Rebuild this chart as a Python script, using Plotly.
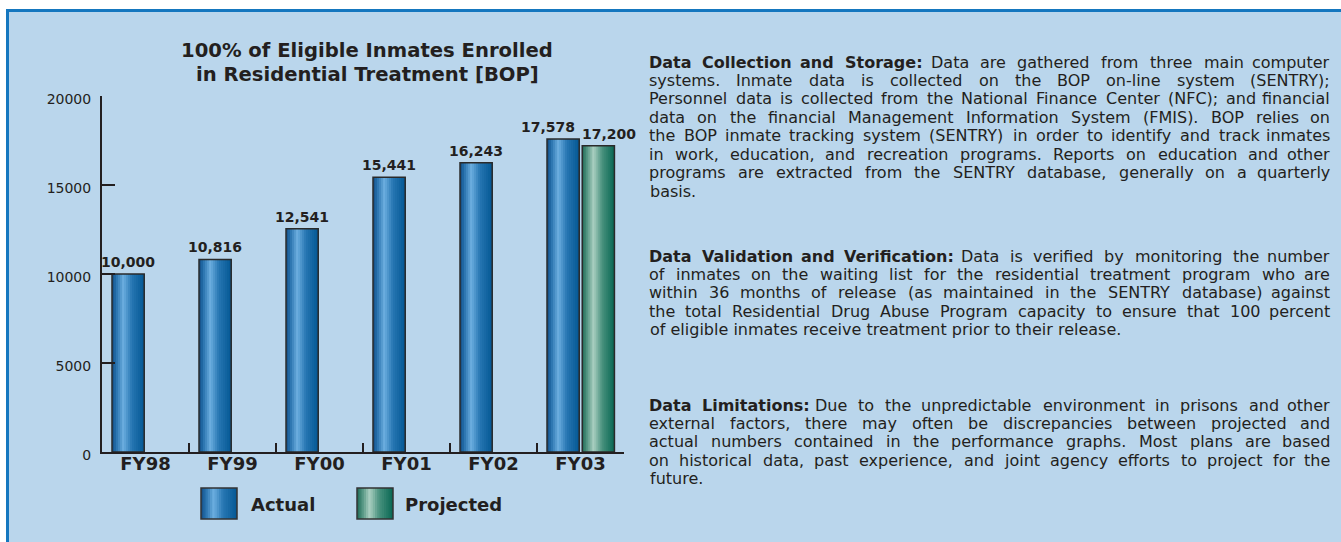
import plotly.graph_objects as go

W, H = 1341, 542

years = ["FY98", "FY99", "FY00", "FY01", "FY02", "FY03"]
actual = [10000, 10816, 12541, 15441, 16243, 17578]
projected = [None, None, None, None, None, 17200]
y_ticks = [0, 5000, 10000, 15000, 20000]

title_lines = ["100% of Eligible Inmates Enrolled", "in Residential Treatment [BOP]"]

# (bold heading, lines of the paragraph; the first line starts with the heading)
para_collection = ("Data Collection and Storage:", [
    "Data Collection and Storage: Data are gathered from three main computer",
    "systems. Inmate data is collected on the BOP on-line system (SENTRY);",
    "Personnel data is collected from the National Finance Center (NFC); and financial",
    "data on the financial Management Information System (FMIS). BOP relies on",
    "the BOP inmate tracking system (SENTRY) in order to identify and track inmates",
    "in work, education, and recreation programs.  Reports on education and other",
    "programs are extracted from the SENTRY database, generally on a quarterly",
    "basis.",
])
para_validation = ("Data Validation and Verification:", [
    "Data Validation and Verification: Data is verified by monitoring the number",
    "of inmates on the waiting list for the residential treatment program who are",
    "within 36 months of release (as maintained in the SENTRY database) against",
    "the total Residential Drug Abuse Program capacity to ensure that 100 percent",
    "of eligible inmates receive treatment prior to their release.",
])
para_limits = ("Data Limitations:", [
    "Data Limitations: Due to the unpredictable environment in prisons and other",
    "external factors, there may often be discrepancies between projected and",
    "actual numbers contained in the performance graphs.  Most plans are based",
    "on historical data, past experience, and joint agency efforts to project for the",
    "future.",
])

INK = "#231f20"
BG = "#bad6ec"
FONT = "DejaVu Sans"
TEXT_SIZE = 16

# shading profiles for the "cylinder" look
blue_stops = [(0, (22, 78, 132)), (0.12, (35, 110, 170)), (0.35, (108, 174, 223)),
              (0.62, (38, 118, 178)), (1, (4, 88, 148))]
green_stops = [(0, (32, 105, 85)), (0.12, (70, 140, 120)), (0.35, (170, 207, 193)),
               (0.62, (72, 145, 125)), (1, (8, 102, 82))]
N_STRIPS = 16

# rough DejaVu Sans advance widths (1/2048 em) used to justify the text column
_W = {" ": 651, ",": 651, ".": 651, ":": 690, ";": 690, "(": 799, ")": 799, "-": 739}
_W.update({d: 1303 for d in "0123456789"})
_W.update(dict(zip("ABCDEFGHIJKLMNOPQRSTUVWXYZ",
                   [1401, 1405, 1430, 1577, 1294, 1178, 1587, 1540, 604, 604, 1343, 1141, 1767,
                    1532, 1612, 1235, 1612, 1423, 1300, 1251, 1499, 1401, 2025, 1403, 1251, 1403])))
_W.update(dict(zip("abcdefghijklmnopqrstuvwxyz",
                   [1255, 1300, 1126, 1300, 1260, 721, 1300, 1298, 569, 569, 1186, 569, 1995,
                    1298, 1253, 1300, 1300, 842, 1067, 803, 1298, 1212, 1675, 1212, 1212, 1075])))


def text_width(s, size, bold=False):
    w = sum(_W.get(ch, 1250) for ch in s) / 2048 * size
    return w * (1.1 if bold else 1.0)


def shade(stops, t):
    for (t0, c0), (t1, c1) in zip(stops, stops[1:]):
        if t0 <= t <= t1:
            f = (t - t0) / (t1 - t0)
            return "rgb(%d,%d,%d)" % tuple(round(a + (b - a) * f) for a, b in zip(c0, c1))
    return "rgb(%d,%d,%d)" % stops[-1][1]


def px(x):
    return x / W


def py(y):
    return 1 - y / H


BAR_W = 0.37
OFF_ACT = -0.385
OFF_PROJ = 0.02

fig = go.Figure()


def add_shaded_bars(values, offset, stops, name):
    step = BAR_W / N_STRIPS
    for i in range(N_STRIPS):
        fig.add_trace(go.Bar(
            x=years, y=values, offset=offset + i * step, width=BAR_W - i * step,
            marker=dict(color=shade(stops, (i + 0.5) / N_STRIPS), line=dict(width=0)),
            showlegend=False, hoverinfo="skip",
        ))
    fig.add_trace(go.Bar(
        x=years, y=values, offset=offset, width=BAR_W, name=name,
        marker=dict(color="rgba(0,0,0,0)", line=dict(color="#2a2a2a", width=1.5)),
        showlegend=False,
    ))


add_shaded_bars(actual, OFF_ACT, blue_stops, "Actual")
add_shaded_bars(projected, OFF_PROJ, green_stops, "Projected")

annotations = []
# value labels
for i, v in enumerate(actual):
    shift = -15 if projected[i] is not None else 0
    annotations.append(dict(
        x=i + OFF_ACT + BAR_W / 2, y=v, xref="x", yref="y", text="<b>%s</b>" % f"{v:,}",
        showarrow=False, yanchor="bottom", xshift=shift, yshift=2,
        font=dict(family=FONT, size=14, color=INK),
    ))
for i, v in enumerate(projected):
    if v is None:
        continue
    annotations.append(dict(
        x=i + OFF_PROJ + BAR_W / 2, y=v, xref="x", yref="y", text="<b>%s</b>" % f"{v:,}",
        showarrow=False, yanchor="bottom", xshift=11, yshift=2,
        font=dict(family=FONT, size=14, color=INK),
    ))

# chart title
for k, line in enumerate(title_lines):
    annotations.append(dict(
        x=px(367), y=py(51 + k * 23.5), xref="paper", yref="paper", text="<b>%s</b>" % line,
        showarrow=False, xanchor="center", yanchor="middle",
        font=dict(family=FONT, size=19.6, color=INK),
    ))

# justified text column on the right
TX0, TX1 = 648, 1331
LINE_H = 18.45
for (heading, lines), top in [(para_collection, 62), (para_validation, 256), (para_limits, 405)]:
    n_bold = len(heading.split())
    for k, line in enumerate(lines):
        y = py(top + k * LINE_H)
        words = line.split()
        bold = [k == 0 and j < n_bold for j in range(len(words))]
        if k == len(lines) - 1:
            annotations.append(dict(
                x=px(TX0), y=y, xref="paper", yref="paper", text=line,
                showarrow=False, xanchor="left", yanchor="middle",
                font=dict(family=FONT, size=TEXT_SIZE, color=INK),
            ))
            continue
        widths = [text_width(w, TEXT_SIZE, b) for w, b in zip(words, bold)]
        gap = (TX1 - TX0 - sum(widths)) / (len(words) - 1)
        gap = max(gap, 0.2 * TEXT_SIZE)
        xpos = TX0
        for j, (w, b) in enumerate(zip(words, bold)):
            last = j == len(words) - 1
            annotations.append(dict(
                x=px(TX1 if last else xpos), y=y, xref="paper", yref="paper",
                text="<b>%s</b>" % w if b else w,
                showarrow=False, xanchor="right" if last else "left", yanchor="middle",
                borderpad=0, font=dict(family=FONT, size=TEXT_SIZE, color=INK),
            ))
            xpos += widths[j] + gap

shapes = [
    dict(type="rect", xref="paper", yref="paper", x0=px(6), x1=1, y0=0, y1=py(9),
         fillcolor=BG, line=dict(width=0), layer="below"),
    dict(type="rect", xref="paper", yref="paper", x0=px(6), x1=1, y0=py(12), y1=py(9),
         fillcolor="#1577bf", line=dict(width=0), layer="below"),
    dict(type="rect", xref="paper", yref="paper", x0=px(6), x1=px(9), y0=0, y1=py(9),
         fillcolor="#1577bf", line=dict(width=0), layer="below"),
]

# legend swatches
for stops, x0, label, tx in [(blue_stops, 201, "Actual", 249), (green_stops, 357, "Projected", 403)]:
    sw = 36 / N_STRIPS
    for i in range(N_STRIPS):
        shapes.append(dict(
            type="rect", xref="paper", yref="paper",
            x0=px(x0 + i * sw), x1=px(x0 + 36), y0=py(519), y1=py(488),
            fillcolor=shade(stops, (i + 0.5) / N_STRIPS), line=dict(width=0),
        ))
    shapes.append(dict(
        type="rect", xref="paper", yref="paper", x0=px(x0), x1=px(x0 + 36),
        y0=py(519), y1=py(488), line=dict(color="#333333", width=1.5),
    ))
    annotations.append(dict(
        x=px(tx), y=py(504), xref="paper", yref="paper", text="<b>%s</b>" % label,
        showarrow=False, xanchor="left", yanchor="middle",
        font=dict(family=FONT, size=18, color=INK),
    ))

fig.update_layout(
    width=W, height=H,
    margin=dict(l=0, r=0, t=0, b=0, autoexpand=False),
    paper_bgcolor="white", plot_bgcolor="rgba(0,0,0,0)",
    barmode="overlay", showlegend=False,
    font=dict(family=FONT, color=INK),
    xaxis=dict(
        domain=[px(102), px(624)], type="category", categoryorder="array", categoryarray=years,
        showline=True, linecolor=INK, linewidth=2, showgrid=False, automargin=False,
        ticks="inside", tickson="boundaries", ticklen=9, tickwidth=1.5, tickcolor=INK,
        tickfont=dict(family=FONT, size=18, color=INK), tickprefix="<b>", ticksuffix="</b>",
        ticklabelstandoff=-6, range=[-0.5, 5.5], fixedrange=True,
    ),
    yaxis=dict(
        domain=[py(452), py(96)], range=[0, 20000], tickvals=y_ticks, automargin=False,
        tickformat="d", showline=True, linecolor=INK, linewidth=2, showgrid=False,
        zeroline=False, ticks="inside", ticklen=13, tickwidth=2, tickcolor=INK,
        tickfont=dict(family=FONT, size=14, color=INK), ticklabelstandoff=6,
        ticklabelshift=3, fixedrange=True,
    ),
    shapes=shapes, annotations=annotations,
)

fig.write_html("out.html", config={"displayModeBar": False},
               post_script="document.body.style.margin='0';")
